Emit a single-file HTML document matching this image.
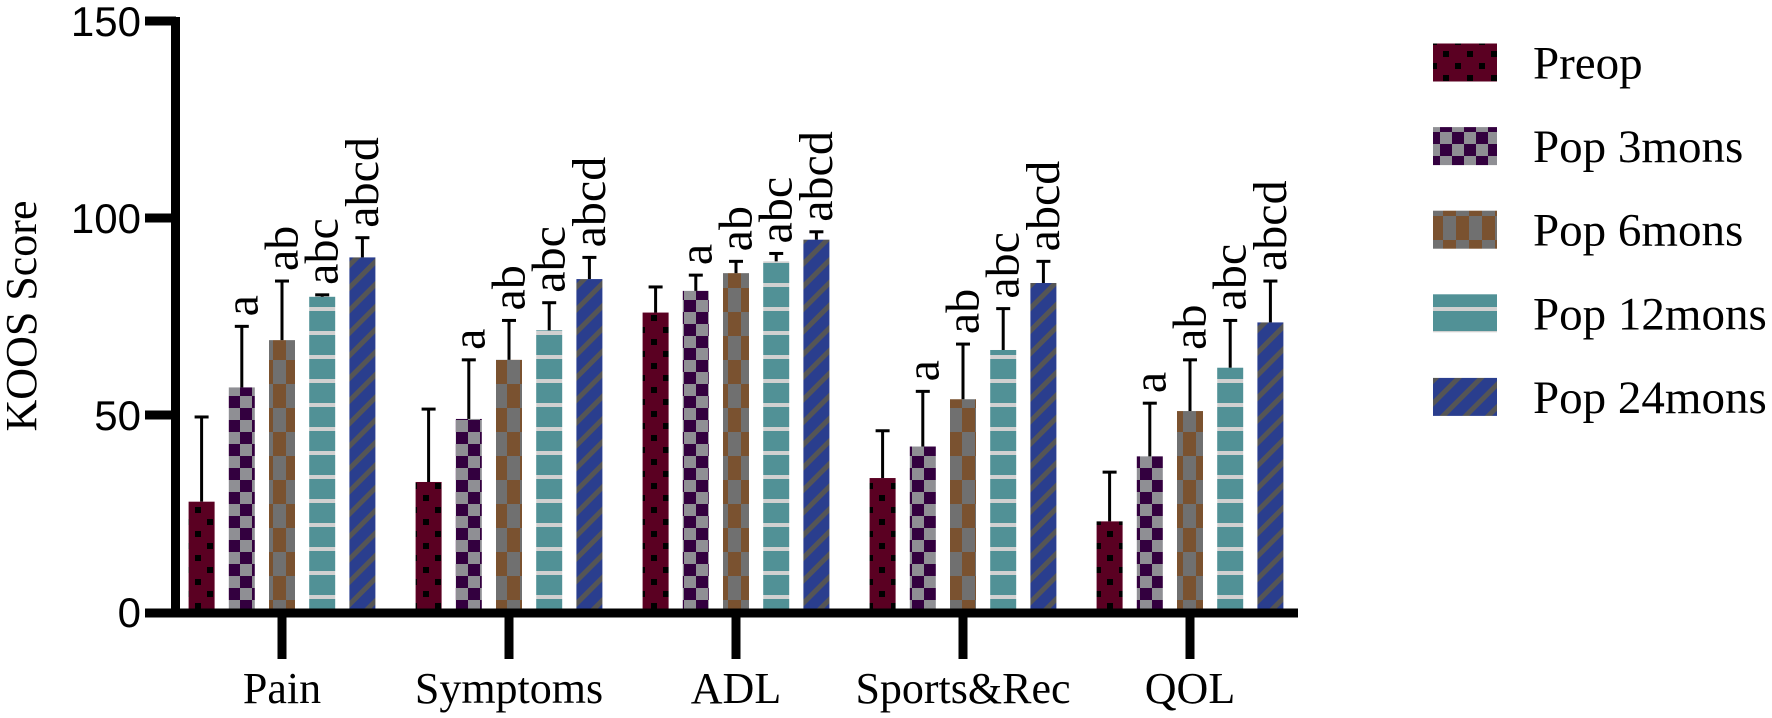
<!DOCTYPE html>
<html><head><meta charset="utf-8"><style>
html,body{margin:0;padding:0;background:#fff;}
svg{display:block;}
</style></head><body>
<svg id="chart" width="1772" height="718" viewBox="0 0 1772 718" xmlns="http://www.w3.org/2000/svg">
<defs>
<pattern id="p0" patternUnits="userSpaceOnUse" width="24" height="24"><rect width="24" height="24" fill="#5a0022"/><rect x="3" y="3" width="6" height="6" fill="#000"/><rect x="15" y="15" width="6" height="6" fill="#000"/></pattern>
<pattern id="p1" patternUnits="userSpaceOnUse" width="24" height="24"><rect width="24" height="24" fill="#8f8f94"/><rect width="12" height="12" fill="#33003f"/><rect x="12" y="12" width="12" height="12" fill="#33003f"/></pattern>
<pattern id="p2" patternUnits="userSpaceOnUse" width="26" height="48"><rect width="26" height="48" fill="#707070"/><rect x="13" width="13" height="24" fill="#7a5230"/><rect y="24" width="13" height="24" fill="#7a5230"/></pattern>
<pattern id="p3" patternUnits="userSpaceOnUse" width="24" height="24"><rect width="24" height="24" fill="#519196"/><rect y="19" width="24" height="4" fill="#d0d0d0"/></pattern>
<pattern id="p4" patternUnits="userSpaceOnUse" width="16" height="16" patternTransform="rotate(45)"><rect width="16" height="16" fill="#2a3e8e"/><rect width="5" height="16" fill="#555"/></pattern>
</defs>
<g id="plot"></g>
</svg>
<script>
const categories = ["Pain","Symptoms","ADL","Sports&Rec","QOL"];
const seriesNames = ["Preop","Pop 3mons","Pop 6mons","Pop 12mons","Pop 24mons"];
const preop = [28, 33, 76, 34, 23];
const pop3 = [57, 49, 81.5, 42, 39.5];
const pop6 = [69, 64, 86, 54, 51];
const pop12 = [80, 71.5, 89, 66.5, 62];
const pop24 = [90, 84.5, 94.5, 83.5, 73.5];
const errPreop = [21.5, 18.5, 6.5, 12, 12.5];
const errPop3 = [15.5, 15, 4, 14, 13.5];
const errPop6 = [15, 10, 3, 14, 13];
const errPop12 = [0.5, 7, 2, 10.5, 12];
const errPop24 = [5, 5.5, 2, 5.5, 10.5];
const sigLabels = ["", "a", "ab", "abc", "abcd"];
const yTicks = [0, 50, 100, 150];

const series = [preop, pop3, pop6, pop12, pop24];
const errs = [errPreop, errPop3, errPop6, errPop12, errPop24];
const NS = "http://www.w3.org/2000/svg";
const g = document.getElementById("plot");
function y(v){ return 612 - v * (197/50); }
function gx(i){ return 282 + i * 227; }
function bx(i, s){ return gx(i) + (s - 2) * 40.2; }
function el(tag, attrs, parent){ const e = document.createElementNS(NS, tag); for (const k in attrs) e.setAttribute(k, attrs[k]); (parent||g).appendChild(e); return e; }
const font = '"Liberation Serif", serif';
const bw = 26;

for (let s = 0; s < series.length; s++) {
  for (let i = 0; i < categories.length; i++) {
    const v = series[s][i], cx = bx(i, s);
    const r = el("rect", {x: cx - bw/2, y: y(v), width: bw, height: y(0) - y(v), fill: "url(#p" + s + ")"});
    
    
    const top = v + errs[s][i];
    const e1 = el("line", {x1: cx, x2: cx, y1: y(v), y2: y(top), stroke: "#000", "stroke-width": 3});
    
    
    const e2 = el("line", {x1: cx - 7, x2: cx + 7, y1: y(top), y2: y(top), stroke: "#000", "stroke-width": 3});
    
    
    if (sigLabels[s]) {
      const ty = y(top) - 10;
      const t = el("text", {x: 0, y: 0, transform: "translate(" + cx + "," + ty + ") rotate(-90)", "font-family": font, "font-size": 48, "dominant-baseline": "central", "text-anchor": "start"});
      t.textContent = sigLabels[s];
      
      
    }
  }
}
// axes
const ya = el("line", {x1: 175.5, x2: 175.5, y1: 17, y2: 617, stroke: "#000", "stroke-width": 9});


const xa = el("line", {x1: 145, x2: 1298, y1: 613, y2: 613, stroke: "#000", "stroke-width": 9});


for (const t of yTicks) {
  const l = el("line", {x1: 145, x2: 176, y1: y(t) + (t===0?1:0), y2: y(t) + (t===0?1:0), stroke: "#000", "stroke-width": 9});
  
  
  const tx = el("text", {x: 141, y: y(t) + 15, "text-anchor": "end", "font-family": '"Liberation Sans", sans-serif', "font-size": 42});
  tx.textContent = t;
  
  
}
for (let i = 0; i < categories.length; i++) {
  const l = el("line", {x1: gx(i), x2: gx(i), y1: 613, y2: 659, stroke: "#000", "stroke-width": 9});
  
  
  const tx = el("text", {x: gx(i), y: 703, "text-anchor": "middle", "font-family": font, "font-size": 44});
  tx.textContent = categories[i];
  
  
}
const yl = el("text", {x: 0, y: 0, transform: "translate(36,316) rotate(-90)", "text-anchor": "middle", "font-family": font, "font-size": 44});
yl.textContent = "KOOS Score";


// legend
for (let s = 0; s < seriesNames.length; s++) {
  const cy = 62.5 + s * 83.6;
  const r = el("rect", {x: 1433, y: cy - 19, width: 64, height: 38, fill: "url(#p" + s + ")"});
  
  
  const t = el("text", {x: 1533, y: cy + 16, "font-family": font, "font-size": 47});
  t.textContent = seriesNames[s];
  
  
}
</script>
</body></html>
